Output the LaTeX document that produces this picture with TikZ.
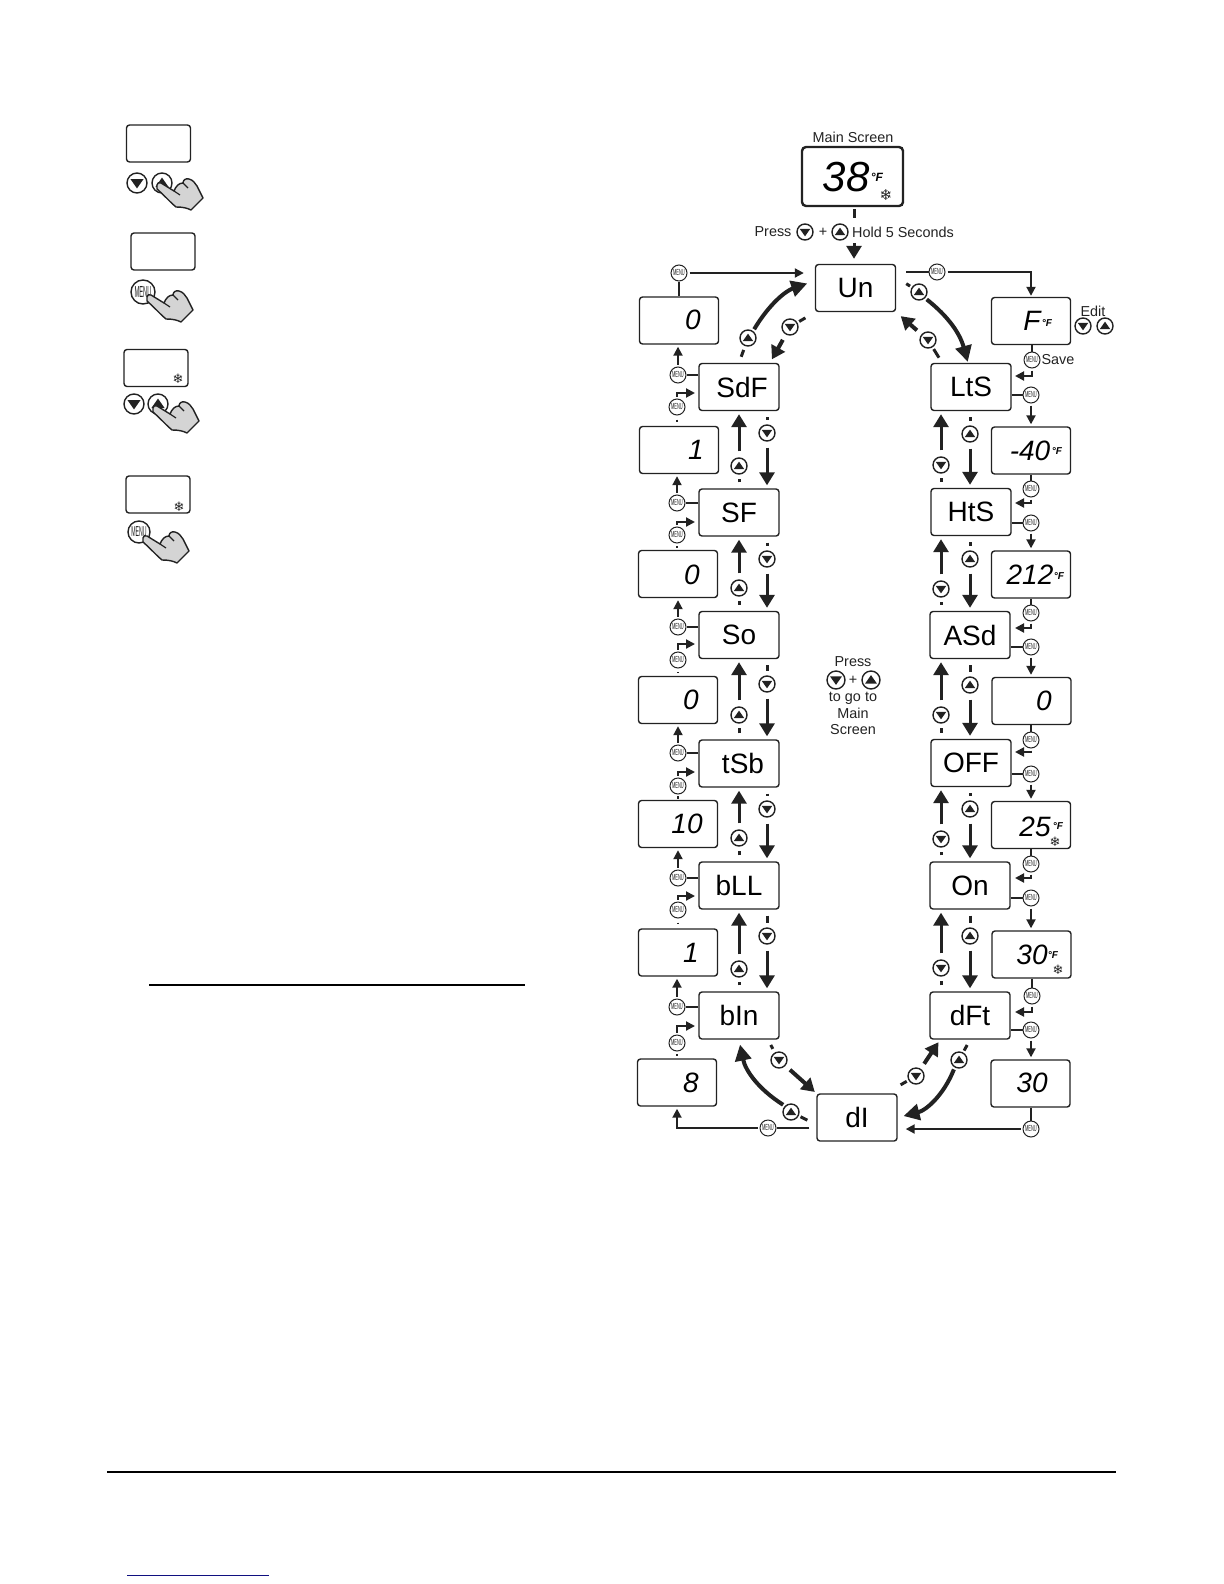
\documentclass[tikz,border=0pt]{standalone}
\usepackage{graphicx}
\usepackage{fontspec}
\setmainfont{Liberation Sans}
\newfontfamily\snowfont{DejaVu Sans}
\usetikzlibrary{arrows.meta}

\definecolor{inkdark}{HTML}{222222}
\definecolor{handgray}{HTML}{D4D4D4}
\definecolor{linkblue}{HTML}{101080}

\newcommand{\menutxt}{\scalebox{0.45}[1]{\fontsize{4.4}{4.4}\selectfont MENU}}
\newcommand{\menubig}{\scalebox{0.36}[1]{\fontsize{8}{8}\selectfont MENU}}

\tikzset{
    panel/.style={draw=inkdark, rounded corners=1.5pt, minimum width=40pt, minimum height=23.5pt,
        inner sep=0pt, line width=0.7pt, text=black, font=\fontsize{14}{14}\selectfont},
    readout/.style={panel, minimum width=39.5pt},
    legendbox/.style={draw=inkdark, rounded corners=1.5pt, minimum width=32pt, minimum height=18.5pt,
        inner sep=0pt, line width=0.7pt},
    digits/.style={inner sep=0pt, font=\fontsize{14}{14}\selectfont\itshape},
    unitmark/.style={inner sep=0pt, font=\fontsize{5}{5}\selectfont\bfseries\itshape},
    snowmark/.style={inner sep=0pt, text=inkdark, font=\snowfont\fontsize{6.5}{6.5}\selectfont},
    caption/.style={inner sep=0pt, text=inkdark, font=\fontsize{7.2}{7.2}\selectfont},
    menukey/.style={circle, draw=inkdark, fill=white, line width=0.5pt, inner sep=0pt, minimum size=8pt, text=inkdark},
    upkey/.style={circle, draw=inkdark, fill=white, line width=0.7pt, inner sep=0pt, minimum size=#1,
        path picture={\fill[inkdark] ([shift={(0pt,0.27*#1)}]path picture bounding box.center)
            -- ([shift={(0.33*#1,-0.2*#1)}]path picture bounding box.center)
            -- ([shift={(-0.33*#1,-0.2*#1)}]path picture bounding box.center) -- cycle;}},
    upkey/.default=8pt,
    dnkey/.style={circle, draw=inkdark, fill=white, line width=0.7pt, inner sep=0pt, minimum size=#1,
        path picture={\fill[inkdark] ([shift={(0pt,-0.27*#1)}]path picture bounding box.center)
            -- ([shift={(0.33*#1,0.2*#1)}]path picture bounding box.center)
            -- ([shift={(-0.33*#1,0.2*#1)}]path picture bounding box.center) -- cycle;}},
    dnkey/.default=8pt,
    lnk/.style={draw=inkdark, line width=1pt},
    lnkarr/.style={lnk, -{Triangle[length=4.5pt,width=4.5pt]}, shorten <=1pt, shorten >=1pt},
    stub/.style={draw=inkdark, line width=1.5pt, shorten <=3pt, shorten >=2pt},
    fatarr/.style={draw=inkdark, line width=1.5pt, -{Triangle[length=6.5pt,width=7.5pt]}, shorten <=3pt, shorten >=1.5pt},
    bentarr/.style={draw=inkdark, line width=2pt, -{Triangle[length=8pt,width=8pt]}, shorten <=1pt},
    pointer/.pic={
        \draw[draw=inkdark, fill=handgray, line width=0.7pt, line join=round]
            (0,0) .. controls (0,-2) and (2,-3) .. (4,-2) -- (17,6)
            .. controls (19,1) and (22,-2) .. (26,-2)
            .. controls (26,-5) and (29,-7) .. (32,-6)
            .. controls (36,-5) and (38,-2) .. (40,1) -- (46,13) -- (34,25)
            .. controls (30,23) and (26,22) .. (19,22)
            .. controls (14,18) and (10,13) .. (0,4) -- cycle;
        \draw[inkdark, line width=0.6pt] (17,6) -- (23,10) (26,-2) -- (31,3);
    }
}

\begin{document}
\begin{tikzpicture}[x=0.5pt, y=-0.5pt]
    \useasboundingbox (0,0) rectangle (1224,1584);

    \node[legendbox] (legA) at (158.5,143.5) {};
    \node[dnkey=10pt] (legAdn) at (137,183) {};
    \node[upkey=10pt] (legAup) at (162,183) {};
    \pic at (157,185) {pointer};

    \node[legendbox] (legB) at (163,251.5) {};
    \node[menukey, minimum size=12pt, line width=0.7pt] (legBmenu) at (143,292) {\menubig};
    \pic at (147,297) {pointer};

    \node[legendbox] (legC) at (156,368) {};
    \node[snowmark] (legCsnow) at (178,379) {❄};
    \node[dnkey=10pt] (legCdn) at (134,404) {};
    \node[upkey=10pt] (legCup) at (158,404) {};
    \pic at (153,408) {pointer};

    \node[legendbox] (legD) at (158,494.5) {};
    \node[snowmark] (legDsnow) at (179,507) {❄};
    \node[menukey, minimum size=11pt, line width=0.7pt] (legDmenu) at (139,532) {\scalebox{0.9}{\menubig}};
    \pic at (143,538) {pointer};

    \draw[black, line width=1pt] (149,985) -- (525,985);
    \draw[black, line width=1.2pt] (107,1472) -- (1116,1472);
    \draw[linkblue, line width=0.5pt] (127,1575) -- (269,1575);

    \node[caption] (mainlabel) at (853,137) {Main Screen};
    \node[panel, minimum width=50.5pt, minimum height=29.5pt, rounded corners=2pt, line width=1.2pt] (main) at (852.5,176.5) {};
    \node[digits, font=\fontsize{21}{21}\selectfont\itshape] (mainval) at (846,177) {38};
    \node[unitmark, font=\fontsize{6}{6}\selectfont\bfseries\itshape] (mainunit) at (877,177) {°F};
    \node[snowmark, font=\snowfont\fontsize{7.5}{7.5}\selectfont] (mainsnow) at (886,195) {❄};

    \node[caption] (pressA) at (773,232) {Press};
    \node[dnkey] (pressAdn) at (805,232) {};
    \node[caption] (plusA) at (823,232) {+};
    \node[upkey] (pressAup) at (840,232) {};
    \node[caption] (holdA) at (903,232) {Hold 5 Seconds};
    \coordinate (holdRow) at (854,232);

    \node[caption] (pressB) at (853,662) {Press};
    \node[dnkey=9pt] (pressBdn) at (836,680) {};
    \node[caption] (plusB) at (853,680) {+};
    \node[upkey=9pt] (pressBup) at (871,680) {};
    \node[caption] (goB) at (853,698) {to go to};
    \node[caption] (mainB) at (853,713) {Main};
    \node[caption] (screenB) at (853,730) {Screen};

    \node[panel] (Un) at (855.5,288) {Un};
    \node[panel] (dI) at (857,1117.5) {dI};

    \node[panel] (SdF) at (739,387) {\hspace{3pt}SdF};
    \node[panel] (SF) at (739,512.5) {SF};
    \node[panel] (So) at (739,635) {So};
    \node[panel] (tSb) at (739,763.5) {\hspace{4pt}tSb};
    \node[panel] (bLL) at (739,885.5) {bLL};
    \node[panel] (bIn) at (739,1015.5) {bIn};

    \node[panel] (LtS) at (971,387) {LtS};
    \node[panel] (HtS) at (971,512) {HtS};
    \node[panel] (ASd) at (970,635) {ASd};
    \node[panel] (OFF) at (971,763) {OFF};
    \node[panel] (On) at (970,885.5) {On};
    \node[panel] (dFt) at (970,1015.5) {dFt};

    \node[readout] (rdSdF) at (679,320.5) {};
    \node[digits] (valSdF) at (693,320) {0};
    \node[readout] (rdSF) at (679,450) {};
    \node[digits] (valSF) at (696,450) {1};
    \node[readout] (rdSo) at (678,574) {};
    \node[digits] (valSo) at (692,575) {0};
    \node[readout] (rdtSb) at (678,700) {};
    \node[digits] (valtSb) at (691,700) {0};
    \node[readout] (rdbLL) at (678,824) {};
    \node[digits] (valbLL) at (687,824) {10};
    \node[readout] (rdbIn) at (678,952.5) {};
    \node[digits] (valbIn) at (691,953) {1};
    \node[readout] (rddI) at (677,1082.5) {};
    \node[digits] (valdI) at (691,1083) {8};

    \node[readout] (rdUn) at (1031,321) {};
    \node[digits] (valUn) at (1032,321) {F};
    \node[unitmark] (unitUn) at (1047,323) {°F};
    \node[readout] (rdLtS) at (1031,450.5) {};
    \node[digits] (valLtS) at (1030,451) {-40};
    \node[unitmark] (unitLtS) at (1057,451) {°F};
    \node[readout] (rdHtS) at (1031,574.5) {};
    \node[digits] (valHtS) at (1030,575) {212};
    \node[unitmark] (unitHtS) at (1059,576) {°F};
    \node[readout] (rdASd) at (1031.5,701) {};
    \node[digits] (valASd) at (1044,701) {0};
    \node[readout] (rdOFF) at (1031,825) {};
    \node[digits] (valOFF) at (1035,827) {25};
    \node[unitmark] (unitOFF) at (1058,826) {°F};
    \node[snowmark] (snowOFF) at (1055,842) {❄};
    \node[readout] (rdOn) at (1031.5,954.5) {};
    \node[digits] (valOn) at (1032,955) {30};
    \node[unitmark] (unitOn) at (1053,955) {°F};
    \node[snowmark] (snowOn) at (1058,970) {❄};
    \node[readout] (rddFt) at (1030.5,1083.5) {};
    \node[digits] (valdFt) at (1032,1083) {30};

    \node[caption] (editlabel) at (1093,311) {Edit};
    \node[dnkey] (editdn) at (1083,326) {};
    \node[upkey] (editup) at (1105,326) {};
    \node[caption] (savelabel) at (1058,360) {Save};

    \node[menukey] (mTopL) at (679,273) {\menutxt};
    \node[menukey] (mTopR) at (937,272) {\menutxt};
    \node[menukey] (mBotL) at (768,1128) {\menutxt};
    \node[menukey] (mBotR) at (1031,1129) {\menutxt};

    \node[menukey] (mSdFa) at (678,375) {\menutxt};
    \node[menukey] (mSdFb) at (677,407) {\menutxt};
    \node[menukey] (mSFa) at (677,503) {\menutxt};
    \node[menukey] (mSFb) at (677,535) {\menutxt};
    \node[menukey] (mSoa) at (678,627) {\menutxt};
    \node[menukey] (mSob) at (678,660) {\menutxt};
    \node[menukey] (mtSba) at (678,753) {\menutxt};
    \node[menukey] (mtSbb) at (678,786) {\menutxt};
    \node[menukey] (mbLLa) at (678,878) {\menutxt};
    \node[menukey] (mbLLb) at (678,910) {\menutxt};
    \node[menukey] (mbIna) at (677,1007) {\menutxt};
    \node[menukey] (mbInb) at (677,1043) {\menutxt};

    \node[menukey] (mLtSa) at (1032,360) {\menutxt};
    \node[menukey] (mLtSb) at (1031,395) {\menutxt};
    \node[menukey] (mHtSa) at (1031,489) {\menutxt};
    \node[menukey] (mHtSb) at (1031,523) {\menutxt};
    \node[menukey] (mASda) at (1031,613) {\menutxt};
    \node[menukey] (mASdb) at (1031,647) {\menutxt};
    \node[menukey] (mOFFa) at (1031,740) {\menutxt};
    \node[menukey] (mOFFb) at (1031,774) {\menutxt};
    \node[menukey] (mOna) at (1031,864) {\menutxt};
    \node[menukey] (mOnb) at (1031,898) {\menutxt};
    \node[menukey] (mdFta) at (1032,996) {\menutxt};
    \node[menukey] (mdFtb) at (1031,1030) {\menutxt};

    \coordinate (inSdF) at (697,393);
    \coordinate (inSF) at (697,522);
    \coordinate (inSo) at (697,644);
    \coordinate (intSb) at (697,772);
    \coordinate (inbLL) at (697,896);
    \coordinate (inbIn) at (697,1026);

    \coordinate (inLtS) at (1013,376);
    \coordinate (inHtS) at (1013,503);
    \coordinate (inASd) at (1013,628);
    \coordinate (inOFF) at (1013,752);
    \coordinate (inOn) at (1013,878);
    \coordinate (indFt) at (1013,1012);

    \node[dnkey] (dnSdF) at (767,433) {};
    \node[upkey] (upSF) at (739,466) {};
    \node[dnkey] (dnSF) at (767,559) {};
    \node[upkey] (upSo) at (739,588) {};
    \node[dnkey] (dnSo) at (767,684) {};
    \node[upkey] (uptSb) at (739,715) {};
    \node[dnkey] (dntSb) at (767,809) {};
    \node[upkey] (upbLL) at (739,838) {};
    \node[dnkey] (dnbLL) at (767,936) {};
    \node[upkey] (upbIn) at (739,969) {};

    \node[upkey] (upLtS) at (970,434) {};
    \node[dnkey] (dnHtS) at (941,465) {};
    \node[upkey] (upHtS) at (970,559) {};
    \node[dnkey] (dnASd) at (941,589) {};
    \node[upkey] (upASd) at (970,685) {};
    \node[dnkey] (dnOFF) at (941,715) {};
    \node[upkey] (upOFF) at (970,809) {};
    \node[dnkey] (dnOn) at (941,839) {};
    \node[upkey] (upOn) at (970,936) {};
    \node[dnkey] (dndFt) at (941,968) {};

    \node[upkey] (upGoL) at (748,338) {};
    \node[dnkey] (dnGoL) at (790,327) {};
    \node[upkey] (upGoR) at (919,292) {};
    \node[dnkey] (dnGoR) at (928,340) {};
    \node[dnkey] (dnbIn) at (779,1060) {};
    \node[upkey] (updI) at (791,1112) {};
    \node[dnkey] (dndI) at (916,1076) {};
    \node[upkey] (updFt) at (959,1060) {};

    \draw[stub, shorten <=1pt, shorten >=7pt] (main.south -| holdRow) -- (holdRow);
    \draw[fatarr, shorten <=5.5pt, shorten >=2.5pt] (holdRow) -- (holdRow |- Un.north);

    \draw[lnk] (rdSdF.north -| mTopL) -- (mTopL);
    \draw[lnkarr, shorten >=5.5pt] (mTopL) -- (mTopL -| Un.west);
    \draw[lnk, shorten <=5pt] (Un.east |- mTopR) -- (mTopR);
    \draw[lnkarr, shorten >=0.5pt] (mTopR) -| (rdUn.north);

    \draw[lnk] (rdUn.south -| mLtSa) -- (mLtSa);
    \draw[lnkarr] (mLtSa.south) |- (inLtS);
    \draw[lnk] (LtS.east |- mLtSb) -- (mLtSb);
    \draw[lnkarr] (mLtSb.south) -- (mLtSb |- rdLtS.north);

    \draw[lnk] (rdLtS.south -| mHtSa) -- (mHtSa);
    \draw[lnkarr] (mHtSa.south) |- (inHtS);
    \draw[lnk] (HtS.east |- mHtSb) -- (mHtSb);
    \draw[lnkarr] (mHtSb.south) -- (mHtSb |- rdHtS.north);

    \draw[lnk] (rdHtS.south -| mASda) -- (mASda);
    \draw[lnkarr] (mASda.south) |- (inASd);
    \draw[lnk] (ASd.east |- mASdb) -- (mASdb);
    \draw[lnkarr] (mASdb.south) -- (mASdb |- rdASd.north);

    \draw[lnk] (rdASd.south -| mOFFa) -- (mOFFa);
    \draw[lnkarr] (mOFFa.south) |- (inOFF);
    \draw[lnk] (OFF.east |- mOFFb) -- (mOFFb);
    \draw[lnkarr] (mOFFb.south) -- (mOFFb |- rdOFF.north);

    \draw[lnk] (rdOFF.south -| mOna) -- (mOna);
    \draw[lnkarr] (mOna.south) |- (inOn);
    \draw[lnk] (On.east |- mOnb) -- (mOnb);
    \draw[lnkarr] (mOnb.south) -- (mOnb |- rdOn.north);

    \draw[lnk] (rdOn.south -| mdFta) -- (mdFta);
    \draw[lnkarr] (mdFta.south) |- (indFt);
    \draw[lnk] (dFt.east |- mdFtb) -- (mdFtb);
    \draw[lnkarr] (mdFtb.south) -- (mdFtb |- rddFt.north);

    \draw[lnk] (rddFt.south -| mBotR) -- (mBotR);
    \draw[lnkarr, shorten >=4pt] (mBotR) -- (mBotR -| dI.east);
    \draw[lnk, shorten <=3.5pt] (dI.west |- mBotL) -- (mBotL);
    \draw[lnkarr] (mBotL) -| (rddI.south);

    \draw[lnk] (SdF.west |- mSdFa) -- (mSdFa);
    \draw[lnkarr] (mSdFa.north) -- (mSdFa |- rdSdF.south);
    \draw[lnk, shorten <=2pt, shorten >=2pt] (mSdFb) -- (mSdFb |- rdSF.north);
    \draw[lnkarr] (mSdFb.north) |- (inSdF);

    \draw[lnk] (SF.west |- mSFa) -- (mSFa);
    \draw[lnkarr] (mSFa.north) -- (mSFa |- rdSF.south);
    \draw[lnk, shorten <=2pt, shorten >=2pt] (mSFb) -- (mSFb |- rdSo.north);
    \draw[lnkarr] (mSFb.north) |- (inSF);

    \draw[lnk] (So.west |- mSoa) -- (mSoa);
    \draw[lnkarr] (mSoa.north) -- (mSoa |- rdSo.south);
    \draw[lnk, shorten <=2pt, shorten >=2pt] (mSob) -- (mSob |- rdtSb.north);
    \draw[lnkarr] (mSob.north) |- (inSo);

    \draw[lnk] (tSb.west |- mtSba) -- (mtSba);
    \draw[lnkarr] (mtSba.north) -- (mtSba |- rdtSb.south);
    \draw[lnk, shorten <=2pt, shorten >=2pt] (mtSbb) -- (mtSbb |- rdbLL.north);
    \draw[lnkarr] (mtSbb.north) |- (intSb);

    \draw[lnk] (bLL.west |- mbLLa) -- (mbLLa);
    \draw[lnkarr] (mbLLa.north) -- (mbLLa |- rdbLL.south);
    \draw[lnk, shorten <=2pt, shorten >=2pt] (mbLLb) -- (mbLLb |- rdbIn.north);
    \draw[lnkarr] (mbLLb.north) |- (inbLL);

    \draw[lnk] (bIn.west |- mbIna) -- (mbIna);
    \draw[lnkarr] (mbIna.north) -- (mbIna |- rdbIn.south);
    \draw[lnk, shorten <=2pt, shorten >=2pt] (mbInb) -- (mbInb |- rddI.north);
    \draw[lnkarr] (mbInb.north) |- (inbIn);

    \draw[stub] (SdF.south -| dnSdF) -- (dnSdF);
    \draw[fatarr] (dnSdF) -- (dnSdF |- SF.north);
    \draw[stub] (SF.north) -- (upSF);
    \draw[fatarr] (upSF) -- (SdF.south);

    \draw[stub] (SF.south -| dnSF) -- (dnSF);
    \draw[fatarr] (dnSF) -- (dnSF |- So.north);
    \draw[stub] (So.north) -- (upSo);
    \draw[fatarr] (upSo) -- (SF.south);

    \draw[stub] (So.south -| dnSo) -- (dnSo);
    \draw[fatarr] (dnSo) -- (dnSo |- tSb.north);
    \draw[stub] (tSb.north) -- (uptSb);
    \draw[fatarr] (uptSb) -- (So.south);

    \draw[stub] (tSb.south -| dntSb) -- (dntSb);
    \draw[fatarr] (dntSb) -- (dntSb |- bLL.north);
    \draw[stub] (bLL.north) -- (upbLL);
    \draw[fatarr] (upbLL) -- (tSb.south);

    \draw[stub] (bLL.south -| dnbLL) -- (dnbLL);
    \draw[fatarr] (dnbLL) -- (dnbLL |- bIn.north);
    \draw[stub] (bIn.north) -- (upbIn);
    \draw[fatarr] (upbIn) -- (bLL.south);

    \draw[stub] (LtS.south -| upLtS) -- (upLtS);
    \draw[fatarr] (upLtS) -- (upLtS |- HtS.north);
    \draw[stub] (HtS.north -| dnHtS) -- (dnHtS);
    \draw[fatarr] (dnHtS) -- (dnHtS |- LtS.south);

    \draw[stub] (HtS.south -| upHtS) -- (upHtS);
    \draw[fatarr] (upHtS) -- (upHtS |- ASd.north);
    \draw[stub] (ASd.north -| dnASd) -- (dnASd);
    \draw[fatarr] (dnASd) -- (dnASd |- HtS.south);

    \draw[stub] (ASd.south -| upASd) -- (upASd);
    \draw[fatarr] (upASd) -- (upASd |- OFF.north);
    \draw[stub] (OFF.north -| dnOFF) -- (dnOFF);
    \draw[fatarr] (dnOFF) -- (dnOFF |- ASd.south);

    \draw[stub] (OFF.south -| upOFF) -- (upOFF);
    \draw[fatarr] (upOFF) -- (upOFF |- On.north);
    \draw[stub] (On.north -| dnOn) -- (dnOn);
    \draw[fatarr] (dnOn) -- (dnOn |- OFF.south);

    \draw[stub] (On.south -| upOn) -- (upOn);
    \draw[fatarr] (upOn) -- (upOn |- dFt.north);
    \draw[stub] (dFt.north -| dndFt) -- (dndFt);
    \draw[fatarr] (dndFt) -- (dndFt |- On.south);

    \draw[stub, shorten <=3.2pt, shorten >=2pt] (SdF.north) -- (upGoL);
    \draw[bentarr, shorten >=4pt] (upGoL.54) to[bend left=20] (Un.170);
    \draw[stub, shorten <=5.5pt, shorten >=1pt] (Un.south west) -- (dnGoL);
    \draw[fatarr, line width=2pt, shorten >=2pt] (dnGoL) -- (SdF.38);

    \draw[stub, shorten <=6pt, shorten >=1pt] (Un.15) -- (upGoR);
    \draw[bentarr, shorten >=0.5pt] (upGoR.-45) to[bend left=18] (LtS.97);
    \draw[stub, shorten <=3pt, shorten >=1pt] (LtS.140) -- (dnGoR);
    \draw[fatarr, line width=2pt, shorten >=3pt] (dnGoR) -- (Un.south east);

    \draw[stub, shorten <=3pt, shorten >=2pt] (bIn.-40) -- (dnbIn);
    \draw[fatarr, line width=2pt, shorten >=1pt] (dnbIn) -- (dI.north west);
    \draw[stub, shorten <=5pt, shorten >=1pt] (dI.190) -- (updI);
    \draw[bentarr, shorten >=2.5pt] (updI.135) to[bend left=23] (bIn.south);

    \draw[stub, shorten <=8.5pt, shorten >=1pt] (dI.40) -- (dndI);
    \draw[fatarr, line width=2pt, shorten >=1.5pt] (dndI) -- (dFt.219);
    \draw[stub, shorten <=3pt, shorten >=1pt] (dFt.south) -- (updFt);
    \draw[bentarr, shorten >=3pt] (updFt.-120) to[bend left=27] (dI.east);

\end{tikzpicture}
\end{document}
